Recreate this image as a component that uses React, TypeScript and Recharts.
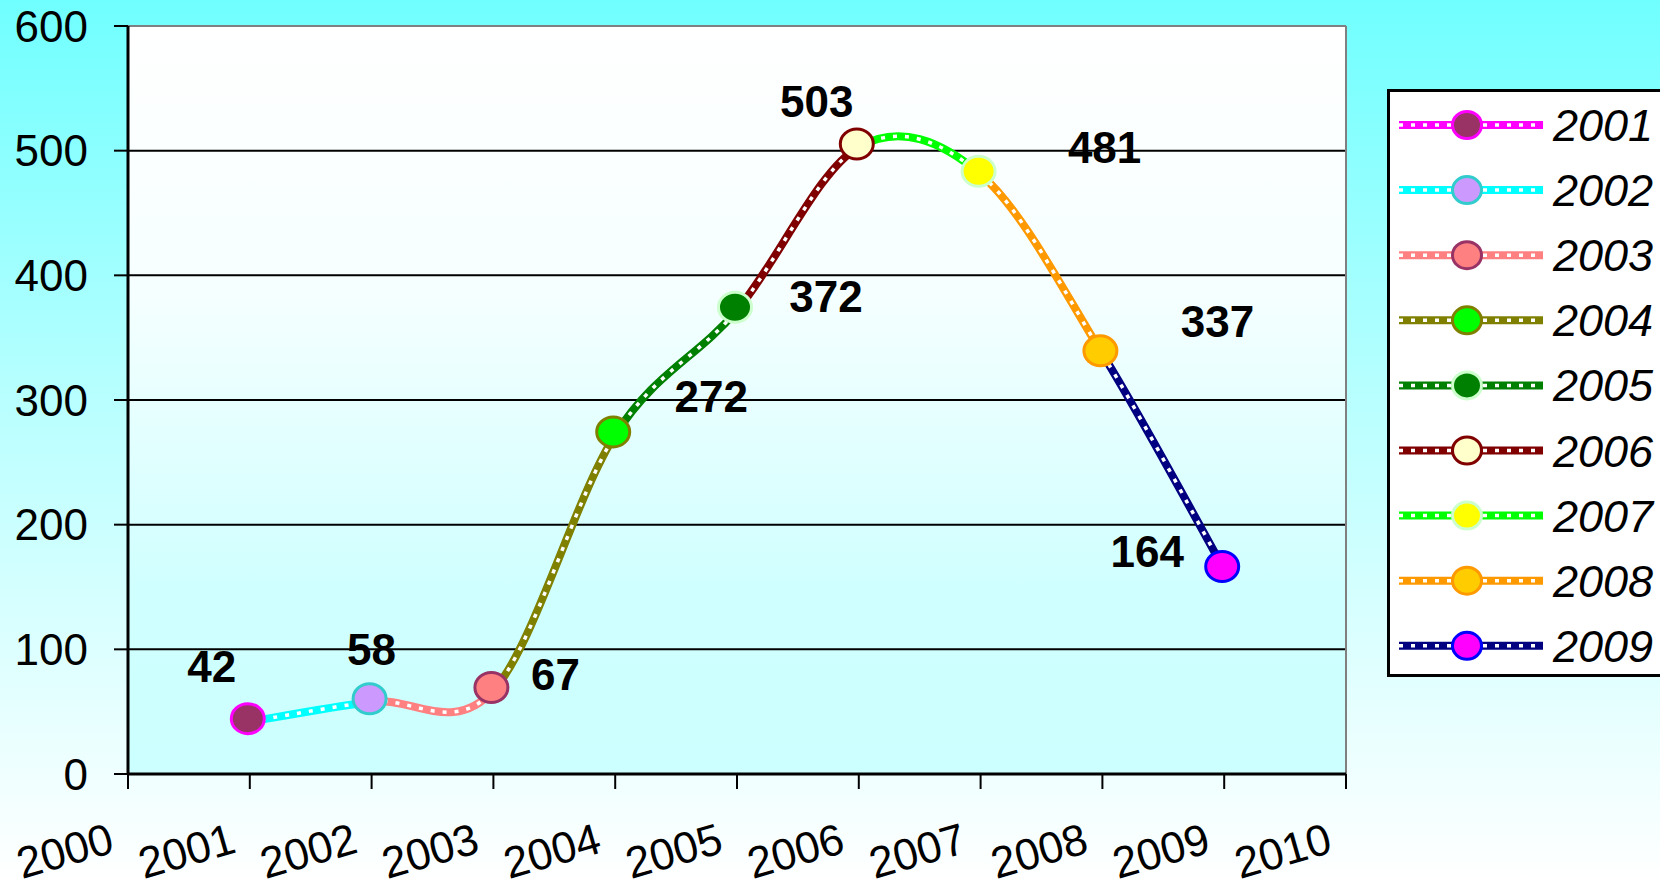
import React from 'react';
import { LineChart, Line, XAxis, YAxis, CartesianGrid, LabelList, ReferenceLine } from 'recharts';

const years = [2001, 2002, 2003, 2004, 2005, 2006, 2007, 2008, 2009];
const values = [42, 58, 67, 272, 372, 503, 481, 337, 164];
const seriesNames = ['2001', '2002', '2003', '2004', '2005', '2006', '2007', '2008', '2009'];
const xTicks = [2000, 2001, 2002, 2003, 2004, 2005, 2006, 2007, 2008, 2009, 2010];
const yTicks = [0, 100, 200, 300, 400, 500, 600];

const lineColors = ['#FF00FF', '#00FFFF', '#FF8080', '#808000', '#008000', '#800000', '#00FF00', '#FF9900', '#000080'];
const markerFills = ['#993366', '#CC99FF', '#FF8080', '#00FF00', '#008000', '#FFFFCC', '#FFFF00', '#FFCC00', '#FF00FF'];
const markerStrokes = ['#FF00FF', '#33CCCC', '#993366', '#808000', '#CCFFCC', '#800000', '#CCFFCC', '#FF9900', '#0000FF'];
const labelOffsets = [[-38, -55], [0, -52], [62, -15], [96, -38], [89, -13], [-42, -45], [124, -26], [115, -32], [-77, -18]];

const data = years.map((year, i) => ({ year, value: values[i] }));

const FONT = '"Liberation Sans", Arial, sans-serif';

// Smooth (Catmull-Rom style) curve factory that draws only one segment of the series
function segmentCurve(seg: number) {
  return (context: any) => {
    let pts: number[][] = [];
    return {
      areaStart() {},
      areaEnd() {},
      lineStart() { pts = []; },
      point(x: number, y: number) { pts.push([+x, +y]); },
      lineEnd() {
        if (seg < 1 || seg >= pts.length) return;
        const p1 = pts[seg - 1];
        const p2 = pts[seg];
        const p0 = seg - 2 >= 0 ? pts[seg - 2] : p1;
        const p3 = seg + 1 < pts.length ? pts[seg + 1] : p2;
        const c1x = p1[0] + (p2[0] - p0[0]) / 6;
        const c1y = p1[1] + (p2[1] - p0[1]) / 6;
        const c2x = p2[0] - (p3[0] - p1[0]) / 6;
        const c2y = p2[1] - (p3[1] - p1[1]) / 6;
        context.moveTo(p1[0], p1[1]);
        context.bezierCurveTo(c1x, c1y, c2x, c2y, p2[0], p2[1]);
      },
    };
  };
}

const segments = [1, 2, 3, 4, 5, 6, 7, 8];
const segmentFactories = segments.map((k) => segmentCurve(k));

const renderDot = (props: any) => {
  const { cx, cy, index } = props;
  if (cx == null || cy == null) return <g key={`d${index}`} />;
  return (
    <ellipse key={`d${index}`} cx={cx - 2} cy={cy - 3} rx={16.5} ry={15}
      fill={markerFills[index]} stroke={markerStrokes[index]} strokeWidth={3} />
  );
};

const renderLabel = (props: any) => {
  const x = props.x ?? props.viewBox?.x;
  const y = props.y ?? props.viewBox?.y;
  const idx = props.index != null ? props.index : values.indexOf(props.value);
  const off = labelOffsets[idx] || [0, 0];
  return (
    <text key={`l${idx}`} x={x + off[0]} y={y + off[1] + 15} textAnchor="middle"
      fontFamily={FONT} fontWeight="bold" fontSize={44} fill="#000">{props.value}</text>
  );
};

const XTick = (props: any) => {
  const { x, y, payload } = props;
  const ax = x - 12;
  const ay = y + 63;
  return (
    <text x={ax} y={ay} textAnchor="end" transform={`rotate(-16, ${ax}, ${ay})`}
      fontFamily={FONT} fontSize={44} fill="#000">{payload.value}</text>
  );
};

const ChartLegend = () => (
  <svg width={290} height={592} style={{ display: 'block', position: 'absolute', left: 1387, top: 89 }}>
    <rect x={1.5} y={1.5} width={320} height={585} fill="#FFFFFF" stroke="#000" strokeWidth={3} />
    {seriesNames.map((name, i) => {
      const cy = 36 + i * 65.1;
      return (
        <g key={name}>
          <line x1={12} y1={cy} x2={156} y2={cy} stroke={lineColors[i]} strokeWidth={8} />
          <line x1={12} y1={cy} x2={156} y2={cy} stroke="#FFFFFF" strokeWidth={3.5} strokeDasharray="4 8" />
          <ellipse cx={80} cy={cy} rx={14.5} ry={13.5} fill={markerFills[i]} stroke={markerStrokes[i]} strokeWidth={3} />
          <text x={166} y={cy + 16} fontFamily={FONT} fontStyle="italic" fontSize={45} fill="#000">{name}</text>
        </g>
      );
    })}
  </svg>
);

export default function App() {
  return (
    <div style={{ position: 'fixed', left: 0, top: 0, width: 1660, height: 880, overflow: 'hidden',
      background: 'linear-gradient(to bottom, #70FFFF 0%, #B8FFFF 45%, #FFFFFF 100%)' }}>
      <LineChart width={1660} height={880} data={data}
        margin={{ top: 26, right: 314, bottom: 0, left: 0 }}>
        <defs>
          <linearGradient id="plotGrad" x1="0" y1="0" x2="0" y2="1">
            <stop offset="0%" stopColor="#FFFFFF" />
            <stop offset="35%" stopColor="#F6FFFF" />
            <stop offset="75%" stopColor="#D0FFFF" />
            <stop offset="100%" stopColor="#CCFFFF" />
          </linearGradient>
        </defs>
        <CartesianGrid vertical={false} stroke="#000" strokeWidth={2} fill="url(#plotGrad)" fillOpacity={1} />
        <XAxis dataKey="year" type="number" domain={[2000, 2010]} ticks={xTicks} interval={0}
          height={106} tickSize={15} tickMargin={0} tick={<XTick />}
          axisLine={{ stroke: '#000', strokeWidth: 3 }} tickLine={{ stroke: '#000', strokeWidth: 2 }} />
        <YAxis type="number" domain={[0, 600]} ticks={yTicks} interval={0} width={128}
          tickSize={14} tickMargin={26}
          tick={{ fontSize: 44, fontFamily: FONT, fill: '#000' }}
          axisLine={{ stroke: '#000', strokeWidth: 3 }} tickLine={{ stroke: '#000', strokeWidth: 2 }} />
        <ReferenceLine y={600} stroke="#808080" strokeWidth={2} />
        <ReferenceLine x={2010} stroke="#808080" strokeWidth={2} />
        {segments.map((k, j) => (
          <Line key={`base${k}`} dataKey="value" type={segmentFactories[j] as any} stroke={lineColors[k]}
            strokeWidth={8} dot={false} activeDot={false} isAnimationActive={false} legendType="none" />
        ))}
        {segments.map((k, j) => (
          <Line key={`chain${k}`} dataKey="value" type={segmentFactories[j] as any} stroke="#FFFFFF"
            strokeWidth={3.5} strokeDasharray="4 8" dot={false} activeDot={false} isAnimationActive={false} legendType="none" />
        ))}
        <Line key="markers" dataKey="value" stroke="none" strokeWidth={0} dot={renderDot}
          activeDot={false} isAnimationActive={false} legendType="none">
          <LabelList dataKey="value" content={renderLabel} />
        </Line>
      </LineChart>
      <ChartLegend />
    </div>
  );
}
